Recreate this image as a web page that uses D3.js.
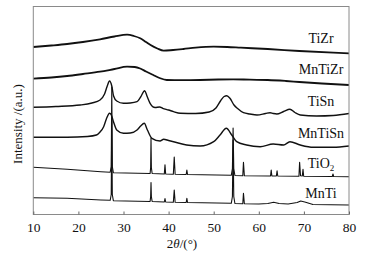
<!DOCTYPE html>
<html><head><meta charset="utf-8">
<script src="https://cdn.jsdelivr.net/npm/d3@7/dist/d3.min.js"></script>
<style>
html,body{margin:0;padding:0;background:#fff;}
svg text{font-family:"Liberation Serif","DejaVu Serif",serif !important;fill:#111;}
</style></head>
<body><svg id="c" width="371" height="259"></svg>
<script>
// 2θ (°) vs stacked intensity (a.u.)
const xTicks = [10, 20, 30, 40, 50, 60, 70, 80];
const labels = ["TiZr", "MnTiZr", "TiSn", "MnTiSn", "TiO2", "MnTi"];

const TiZr = [[10,167.5],[14,169],[17.5,170.5],[21,172.5],[24.8,175.2],[28,178],[30.8,179.8],[32.3,178.5],[33.7,176.2],[35,172.5],[36,169.5],[37.5,166],[38.9,163.8],[41,164.5],[43.3,165.5],[46,166.8],[50,167.8],[53,167.5],[56,166.8],[62,165.5],[69,163.5],[76.5,161.8],[80,161.2]];
const MnTiZr = [[10,135.8],[14,137],[17.5,138.5],[21,140.5],[24.8,142.8],[28,145.5],[30.8,147.8],[32.5,147.5],[33.7,146],[35,143],[36.6,139.5],[38,136.5],[39.6,134.5],[43,134.3],[47,134.5],[51,135],[54.3,135.2],[58,134.8],[62,134.5],[66,133.5],[69,132.5],[74,131],[80,129.5]];
const TiSn = [[10,107.2],[15,108],[20.4,109.5],[23,111.5],[24.8,114.5],[25.8,120.5],[26.4,128.5],[26.9,133.5],[27.4,128.5],[27.8,118.5],[28.5,113.5],[30,111.2],[31.5,111.5],[33,112.8],[33.8,117.5],[34.7,123.8],[35.2,118.5],[35.9,111.2],[37,107],[38,107.5],[38.7,106.2],[40,104.5],[41.1,102.8],[42.6,101.2],[46,101],[49,102.5],[50.5,106.5],[51.5,113.5],[52.3,118],[52.9,118.8],[53.6,116.2],[54.5,109.5],[55.3,106],[56.6,101.8],[58,100.5],[59.6,99.5],[61.5,101],[62.5,101.8],[63.2,101],[64,100.5],[65.5,103],[66.9,105.2],[68,102],[69.2,99.5],[72.8,98.5],[76.5,99],[80,101]];
const MnTiSn = [[10,77.2],[17.5,77.2],[22,78],[24,79.5],[24.8,82.5],[25.6,87.8],[26.2,95.5],[26.9,101.2],[27.3,99.5],[27.8,92.5],[28.5,84.5],[30,81.2],[31.5,81.5],[33,84.5],[33.8,88.5],[34.6,91.2],[35.3,84.5],[36.3,76.2],[38.1,73.5],[38.9,75.2],[40,74],[41.1,72.8],[44,69.5],[47,68.5],[50,72.8],[51.4,79.5],[52.8,86.2],[54,79.5],[55.1,72.8],[57.3,69.5],[60.3,67.8],[63.2,70.5],[65.5,69.5],[66.9,72.8],[69.2,69.5],[72.1,67.2],[76.5,67.2],[80,68.5]];
const TiO2 = [[10,47.2],[17.5,45.2],[25,42.8],[27.05,42.3],[27.28,48],[27.4,127.5],[27.52,48],[27.75,41.8],[35.9,41],[36.02,47],[36.1,76.5],[36.18,47],[36.35,41],[39.05,40.5],[39.2,49.8],[39.35,40.5],[41.05,40.2],[41.25,57.5],[41.45,40.2],[43.9,40],[44.05,44.5],[44.2,40],[53.9,39.2],[54.15,46],[54.3,86.5],[54.45,46],[54.7,39],[56.45,38.8],[56.6,52.2],[56.8,38.8],[62.6,38.5],[62.75,44.5],[62.9,38.5],[63.9,38.5],[64.05,43.8],[64.2,38.5],[68.9,38.3],[69.05,52.2],[69.25,38.8],[69.65,38.5],[69.8,45.2],[69.95,38.3],[76.3,38],[76.45,40.5],[76.6,38],[80,37.8]];
const MnTi = [[10,16.8],[17.5,16.2],[25,14.5],[27.05,14.2],[27.28,20],[27.4,94.5],[27.52,20],[27.75,13.8],[35.9,13],[36.02,18],[36.1,32],[36.18,18],[36.35,13],[39.05,12.5],[39.2,16],[39.35,12.5],[41.05,12.3],[41.25,24.5],[41.45,12.2],[43.9,12],[44.05,16.2],[44.2,12],[53.9,11.2],[54.15,18],[54.3,74.5],[54.45,18],[54.7,11],[56.45,10.8],[56.6,21.2],[56.8,10.8],[60,10.5],[62,11],[63.3,12.2],[64.5,11],[66.5,10.5],[68.5,12],[69.3,13.5],[70.2,12.5],[72,10],[80,9.5]];

const labelY = [171.5, 140.5, 109, 76.5, 46.5, 16.5]; // label baselines in a.u.

const FONT = "'Liberation Serif', 'DejaVu Serif', serif";
const svg = d3.select("#c");
const L = 33.3, R = 349, T = 6.5, B = 214.5;
const x = d3.scaleLinear().domain([10, 80]).range([L, R]);
const y = d3.scaleLinear().domain([0, B - T]).range([B, T]);

// curves
const smooth = d3.line().x(d => x(d[0])).y(d => y(d[1])).curve(d3.curveMonotoneX);
const sharp = d3.line().x(d => x(d[0])).y(d => y(d[1]));
const series = [
  {d: TiZr, gen: smooth, w: 1.8},
  {d: MnTiZr, gen: smooth, w: 1.8},
  {d: TiSn, gen: smooth, w: 1.4},
  {d: MnTiSn, gen: smooth, w: 1.4},
  {d: TiO2, gen: sharp, w: 1.1},
  {d: MnTi, gen: sharp, w: 1.1}
];
const g = svg.append("g");
series.forEach(s => {
  g.append("path").attr("d", s.gen(s.d)).attr("fill", "none")
    .attr("stroke", "#111").attr("stroke-width", s.w).attr("stroke-linejoin", "round");
});

// frame
svg.append("rect").attr("x", L).attr("y", T).attr("width", R - L).attr("height", B - T)
  .attr("fill", "none").attr("stroke", "#8a8a8a").attr("stroke-width", 1);

// x axis
const ax = d3.axisBottom(x).tickValues(xTicks).tickSizeInner(-3).tickSizeOuter(0).tickPadding(8);
const axg = svg.append("g").attr("transform", `translate(0,${B})`).call(ax)
  .attr("font-family", FONT);
axg.select(".domain").remove();
axg.selectAll(".tick line").attr("stroke", "#666");
axg.selectAll(".tick text").attr("font-size", 13.5).attr("font-family", FONT).attr("fill", "#111");

// x label
const xl = svg.append("text").attr("x", 182).attr("y", 248).attr("text-anchor", "middle")
  .attr("font-size", 13).attr("font-family", FONT);
xl.append("tspan").text("2");
xl.append("tspan").attr("font-style", "italic").text("θ");
xl.append("tspan").text("/(°)");

// y label
svg.append("text").attr("transform", "translate(21.5,124) rotate(-90)")
  .attr("text-anchor", "middle").attr("font-size", 13).attr("font-family", FONT).text("Intensity /(a.u.)");

// series labels
labels.forEach((lab, i) => {
  const t = svg.append("text").attr("x", 321).attr("y", y(labelY[i]))
    .attr("text-anchor", "middle").attr("font-size", 14).attr("font-family", FONT);
  if (lab === "TiO2") {
    t.append("tspan").text("TiO");
    t.append("tspan").attr("font-size", 9).attr("dy", 3).text("2");
  } else t.text(lab);
});
</script></body></html>
